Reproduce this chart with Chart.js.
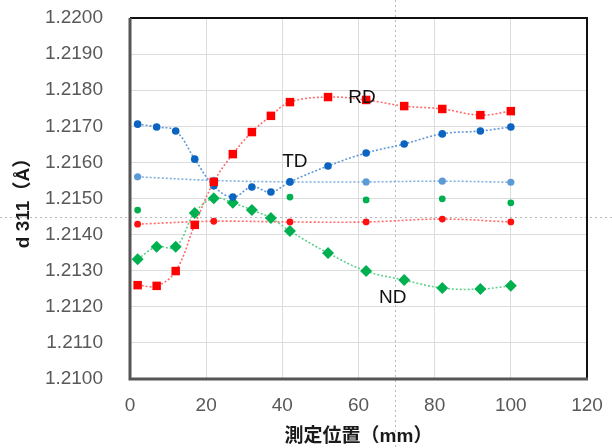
<!DOCTYPE html>
<html>
<head>
<meta charset="utf-8">
<script src="https://cdn.jsdelivr.net/npm/chart.js@4.4.1/dist/chart.umd.min.js"></script>
<style>
  html, body { margin: 0; padding: 0; background: #fff; }
  #wrap { width: 612px; height: 448px; }
</style>
</head>
<body>
<div id="wrap"><canvas id="chart" width="612" height="448"></canvas></div>
<script>
// measuring positions (mm)
const positions = [2, 7, 12, 17, 22, 27, 32, 37, 42, 52, 62, 72, 82, 92, 100];
const rdValues = [1.21260, 1.21258, 1.21299, 1.21427, 1.21546, 1.21623, 1.21684, 1.21729, 1.21767, 1.21781, 1.21773, 1.21756, 1.21748, 1.21731, 1.21742];
const tdValues = [1.21706, 1.21698, 1.21687, 1.21609, 1.21535, 1.21504, 1.21532, 1.21518, 1.21546, 1.21590, 1.21626, 1.21651, 1.21679, 1.21687, 1.21698];
const ndValues = [1.21332, 1.21366, 1.21366, 1.21460, 1.21501, 1.21488, 1.21468, 1.21446, 1.21410, 1.21349, 1.21299, 1.21274, 1.21252, 1.21249, 1.21258];

// second set of measurements, every 20 mm
const spotPositions = [2, 22, 42, 62, 82, 100];
const tdSpot = [1.21560, 1.21550, 1.21546, 1.21546, 1.21548, 1.21545];
const ndSpot = [1.21468, 1.21500, 1.21504, 1.21496, 1.21499, 1.21488];
const rdSpot = [1.21429, 1.21437, 1.21435, 1.21435, 1.21443, 1.21435];

const xTicks = [0, 20, 40, 60, 80, 100, 120];
const yTicks = [1.2100, 1.2110, 1.2120, 1.2130, 1.2140, 1.2150, 1.2160, 1.2170, 1.2180, 1.2190, 1.2200];
const yTickLabels = ['1.2100', '1.2110', '1.2120', '1.2130', '1.2140', '1.2150', '1.2160', '1.2170', '1.2180', '1.2190', '1.2200'];

// series name labels placed in data coordinates
const seriesLabels = [
  { text: 'RD', x: 60.9, y: 1.21778 },
  { text: 'TD', x: 43.3, y: 1.21601 },
  { text: 'ND', x: 69.0, y: 1.21224 }
];

const toPoints = (xs, ys) => xs.map((x, i) => ({ x: x, y: ys[i] }));

const tickFont = { family: "'Liberation Sans', Arial, sans-serif", size: 19 };
const titleFont = { family: "'Liberation Sans', 'Noto Sans CJK JP', sans-serif", size: 19, weight: 'bold' };

const frameAndLabels = {
  id: 'frameAndLabels',
  beforeDatasetsDraw(chart) {
    const { ctx, chartArea: a, scales } = chart;
    ctx.save();
    // faint dotted crosshair that runs across the picture
    ctx.strokeStyle = '#b8b8b8';
    ctx.lineWidth = 1;
    ctx.setLineDash([2, 3]);
    const cx = Math.round(scales.x.getPixelForValue(69.5)) + 0.5;
    const cy = Math.round(scales.y.getPixelForValue(1.21449)) + 0.5;
    ctx.beginPath();
    ctx.moveTo(cx, 0); ctx.lineTo(cx, chart.height);
    ctx.moveTo(0, cy); ctx.lineTo(chart.width, cy);
    ctx.stroke();
    ctx.setLineDash([]);
    // plot frame
    ctx.strokeStyle = '#111';
    ctx.lineWidth = 2;
    ctx.beginPath();
    ctx.moveTo(a.left, a.top); ctx.lineTo(a.right, a.top); ctx.lineTo(a.right, a.bottom);
    ctx.stroke();
    ctx.strokeStyle = '#555';
    ctx.lineWidth = 3;
    ctx.beginPath();
    ctx.moveTo(a.left, a.top); ctx.lineTo(a.left, a.bottom); ctx.lineTo(a.right + 1, a.bottom);
    ctx.stroke();
    ctx.restore();
  },
  afterDatasetsDraw(chart) {
    const { ctx, scales } = chart;
    ctx.save();
    ctx.font = "19px 'Liberation Sans', Arial, sans-serif";
    ctx.fillStyle = '#111';
    ctx.textAlign = 'center';
    ctx.textBaseline = 'middle';
    seriesLabels.forEach(l => {
      ctx.fillText(l.text, scales.x.getPixelForValue(l.x), scales.y.getPixelForValue(l.y));
    });
    ctx.restore();
  }
};

const dotted = { showLine: true, borderDash: [2, 2], borderWidth: 1.6, tension: 0.4, pointBorderWidth: 0 };

new Chart(document.getElementById('chart'), {
  type: 'scatter',
  data: {
    datasets: [
      Object.assign({}, dotted, {
        label: 'RD', data: toPoints(positions, rdValues),
        borderColor: '#ff6a6a', pointStyle: 'rect', pointRadius: 6,
        pointBackgroundColor: '#ff0000'
      }),
      Object.assign({}, dotted, {
        label: 'TD', data: toPoints(positions, tdValues),
        borderColor: '#5f98d8', pointStyle: 'circle', pointRadius: 3.8,
        pointBackgroundColor: '#0a64c0'
      }),
      Object.assign({}, dotted, {
        label: 'ND', data: toPoints(positions, ndValues),
        borderColor: '#5fcf8c', pointStyle: 'rectRot', pointRadius: 6,
        pointBackgroundColor: '#00b050'
      }),
      Object.assign({}, dotted, {
        label: 'RD 2', data: toPoints(spotPositions, rdSpot),
        borderColor: '#ff6a6a', pointStyle: 'circle', pointRadius: 3.4,
        pointBackgroundColor: '#ff1010'
      }),
      Object.assign({}, dotted, {
        label: 'TD 2', data: toPoints(spotPositions, tdSpot),
        borderColor: '#7faee0', pointStyle: 'circle', pointRadius: 3.6,
        pointBackgroundColor: '#5b9bd5'
      }),
      {
        label: 'ND 2', data: toPoints(spotPositions, ndSpot), showLine: false,
        pointStyle: 'circle', pointRadius: 3.4, pointBorderWidth: 0,
        pointBackgroundColor: '#00b050'
      }
    ]
  },
  options: {
    responsive: false,
    animation: false,
    layout: { padding: { left: 0, top: 18, right: 25, bottom: 0 } },
    plugins: {
      legend: { display: false },
      tooltip: { enabled: false }
    },
    scales: {
      x: {
        min: 0, max: 120,
        afterFit: s => { s.height = 69; s.paddingLeft = 0; s.paddingRight = 0; },
        afterBuildTicks: s => { s.ticks = xTicks.map(v => ({ value: v })); },
        grid: { color: '#dcdcdc', drawTicks: false },
        border: { display: false },
        ticks: { font: tickFont, color: '#595959', padding: 15 },
        title: { display: true, text: '測定位置（mm）', font: titleFont, color: '#1a1a1a', padding: { top: 0, bottom: 0 } }
      },
      y: {
        min: 1.2100, max: 1.2200,
        afterFit: s => { s.width = 130; s.paddingTop = 0; s.paddingBottom = 0; },
        afterBuildTicks: s => { s.ticks = yTicks.map(v => ({ value: v })); },
        grid: { color: '#dcdcdc', drawTicks: false },
        border: { display: false },
        ticks: {
          font: tickFont, color: '#595959', padding: 27,
          callback: (v, i) => yTickLabels[i]
        },
        title: { display: true, text: 'd 311（Å）', font: titleFont, color: '#1a1a1a', padding: { top: 12, bottom: 0 } }
      }
    }
  },
  plugins: [frameAndLabels]
});
</script>
</body>
</html>
